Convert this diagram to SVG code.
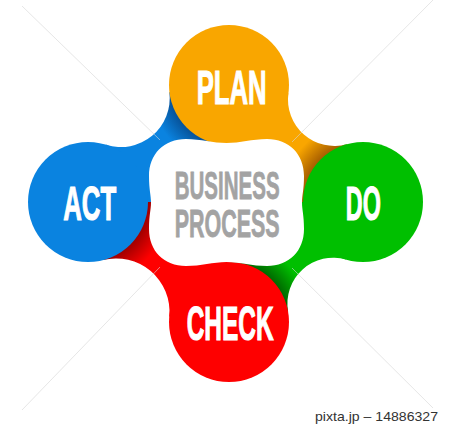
<svg xmlns="http://www.w3.org/2000/svg" width="450" height="427" viewBox="0 0 450 427">
  <defs>
    <radialGradient id="gBlue" gradientUnits="userSpaceOnUse" cx="229" cy="85" r="100">
      <stop offset="0.6" stop-color="#07539a"/>
      <stop offset="0.8" stop-color="#0a83e0"/>
    </radialGradient>
    <radialGradient id="gOrange" gradientUnits="userSpaceOnUse" cx="363" cy="202" r="100">
      <stop offset="0.6" stop-color="#a85f00"/>
      <stop offset="0.82" stop-color="#f9a600"/>
    </radialGradient>
    <radialGradient id="gGreen" gradientUnits="userSpaceOnUse" cx="229" cy="322" r="100">
      <stop offset="0.6" stop-color="#006a00"/>
      <stop offset="0.82" stop-color="#00bf00"/>
    </radialGradient>
    <radialGradient id="gRed" gradientUnits="userSpaceOnUse" cx="88" cy="202" r="100">
      <stop offset="0.6" stop-color="#a00000"/>
      <stop offset="0.82" stop-color="#fe0000"/>
    </radialGradient>
    <style>
      .lbl { font-family: "Liberation Sans Narrow", "Liberation Sans", Arial, sans-serif; font-weight: bold; fill: #ffffff; stroke: #ffffff; stroke-width: 1.2; text-anchor: middle; }
      .core { font-family: "Liberation Sans Narrow", "Liberation Sans", Arial, sans-serif; font-weight: bold; fill: #a3a3a3; stroke: #a3a3a3; stroke-width: 0.8; text-anchor: middle; }
      .wm { stroke: #d6d6d6; stroke-width: 1; opacity: 0.6; fill: none; }
      .credit { font-family: "Liberation Sans", Arial, sans-serif; font-size: 13px; fill: #333333; }
    </style>
  </defs>
  <rect width="450" height="427" fill="#ffffff"/>

  <g id="connectors">
    <path id="act-plan" d="M106.1,144.8 A48.9,48.9 0 0 0 169.4,92.3 L229,85 L226,202 L88,202 Z" fill="url(#gBlue)"/>
    <path id="plan-do" d="M288.4,93.2 A46.4,46.4 0 0 0 346.9,144.2 L363,202 L226,202 L229,85 Z" fill="url(#gOrange)"/>
    <path id="do-check" d="M346.1,259.6 A45.8,45.8 0 0 0 288.1,311.6 L229,322 L226,202 L363,202 Z" fill="url(#gGreen)"/>
    <path id="check-act" d="M169.3,316.5 A53.3,53.3 0 0 0 102.9,260.1 L88,202 L226,202 L229,322 Z" fill="url(#gRed)"/>
  </g>

  <g id="plan">
    <circle cx="229" cy="85" r="60" fill="#f9a600"/>
    <text class="lbl" x="231.7" y="104" font-size="49" textLength="70" lengthAdjust="spacingAndGlyphs">PLAN</text>
  </g>
  <g id="do">
    <circle cx="363" cy="202" r="60" fill="#00bf00"/>
    <text class="lbl" x="363.3" y="220.4" font-size="49" textLength="35" lengthAdjust="spacingAndGlyphs">DO</text>
  </g>
  <g id="check">
    <circle cx="229" cy="322" r="60" fill="#fe0000"/>
    <text class="lbl" x="230.2" y="340.4" font-size="49" textLength="87" lengthAdjust="spacingAndGlyphs">CHECK</text>
  </g>
  <g id="act">
    <circle cx="88" cy="202" r="60" fill="#0a83e0"/>
    <text class="lbl" x="89.7" y="219.7" font-size="49" textLength="53" lengthAdjust="spacingAndGlyphs">ACT</text>
  </g>

  <g id="center">
    <path d="M226.5,143 C240,143 252,139 267,139 C289,139 304,154 304,176 C304,190 302,195 302,202.5 C302,210 304,215 304,229 C304,251 289,266 267,266 C252,266 240,262 226.5,262 C213,262 201,266 186,266 C164,266 149,251 149,229 C149,215 151,210 151,202.5 C151,195 149,190 149,176 C149,154 164,139 186,139 C201,139 213,143 226.5,143 Z" fill="#ffffff"/>
    <text class="core" x="227.2" y="198.8" font-size="39.5" textLength="105" lengthAdjust="spacingAndGlyphs">BUSINESS</text>
    <text class="core" x="227.2" y="237" font-size="39.5" textLength="105" lengthAdjust="spacingAndGlyphs">PROCESS</text>
  </g>

  <g id="watermark">
    <line class="wm" x1="22" y1="6" x2="160" y2="140"/>
    <line class="wm" x1="433" y1="0" x2="292" y2="142"/>
    <line class="wm" x1="22" y1="410" x2="160" y2="267"/>
    <line class="wm" x1="433" y1="408" x2="292" y2="268"/>
  </g>

  <text class="credit" x="315" y="420.5" textLength="123" lengthAdjust="spacingAndGlyphs">pixta.jp – 14886327</text>
</svg>
